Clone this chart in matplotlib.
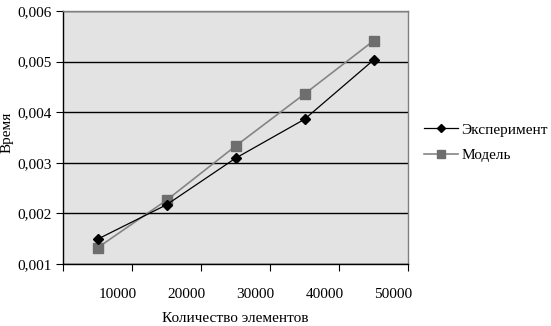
import matplotlib
matplotlib.use("Agg")
import matplotlib.pyplot as plt
import matplotlib.transforms as mtransforms
from matplotlib.ticker import FixedLocator, FuncFormatter

categories = ["10000", "20000", "30000", "40000", "50000"]
experiment = [0.00149, 0.00217, 0.00309, 0.00386, 0.00503]
model = [0.00132, 0.00226, 0.00333, 0.00436, 0.00541]
y_ticks = [0.001, 0.002, 0.003, 0.004, 0.005, 0.006]

plt.rcParams["font.family"] = ["Liberation Serif", "DejaVu Serif"]
FS = 11

fig = plt.figure(figsize=(5.51, 3.26), dpi=100)
ax = fig.add_axes([63 / 551, 62 / 326, 345 / 551, 253 / 326])
ax.set_facecolor("#e3e3e3")

x = [i + 0.5 for i in range(len(categories))]
ax.plot(x, experiment, color="black", lw=0.9, marker="D", ms=5,
        mfc="black", mec="black", label="Эксперимент", zorder=4)
ax.plot(x, model, color="#858585", lw=1.2, marker="s", ms=6.5,
        mfc="#6e6e6e", mec="#6e6e6e", label="Модель", zorder=3)

ax.set_xlim(0, len(categories))
ax.set_ylim(0.001, 0.006)

# category boundaries carry the tick marks; labels sit near category centres
ax.xaxis.set_major_locator(FixedLocator(range(len(categories) + 1)))
ax.xaxis.set_major_formatter(FuncFormatter(lambda v, p: ""))
ax.xaxis.set_minor_locator(FixedLocator(x))
ax.set_xticklabels(categories, minor=True)
ax.tick_params(axis="x", which="minor", length=0, pad=17, labelsize=FS)
ax.tick_params(axis="x", which="major", length=5, direction="out", color="black")
shift = mtransforms.ScaledTranslation(20 / 100, 0, fig.dpi_scale_trans)
for lbl in ax.xaxis.get_minorticklabels():
    lbl.set_transform(lbl.get_transform() + shift)

ax.set_yticks(y_ticks)
ax.yaxis.set_major_formatter(FuncFormatter(lambda v, p: f"{v:.3f}".replace(".", ",")))
ax.tick_params(axis="y", length=5, direction="out", labelsize=FS, color="black", pad=3)
ax.grid(axis="y", color="black", lw=1)
ax.set_axisbelow(True)

for side in ("top", "right"):
    ax.spines[side].set_color("#808080")
for side in ("left", "bottom"):
    ax.spines[side].set_color("black")
for s in ax.spines.values():
    s.set_linewidth(1)

ax.set_xlabel("Количество элементов", fontsize=FS, labelpad=8)
fig.text(7.5 / 551, 1 - 132 / 326, "Время", rotation=90, fontsize=FS,
         ha="center", va="center")

ax.legend(loc="center left", bbox_to_anchor=(1.03, 0.48), frameon=False,
          fontsize=FS, handlelength=2.2, handletextpad=0.2, labelspacing=0.75,
          borderaxespad=0, markerscale=0.8)

fig.savefig("out.png", dpi=100, facecolor="white")
